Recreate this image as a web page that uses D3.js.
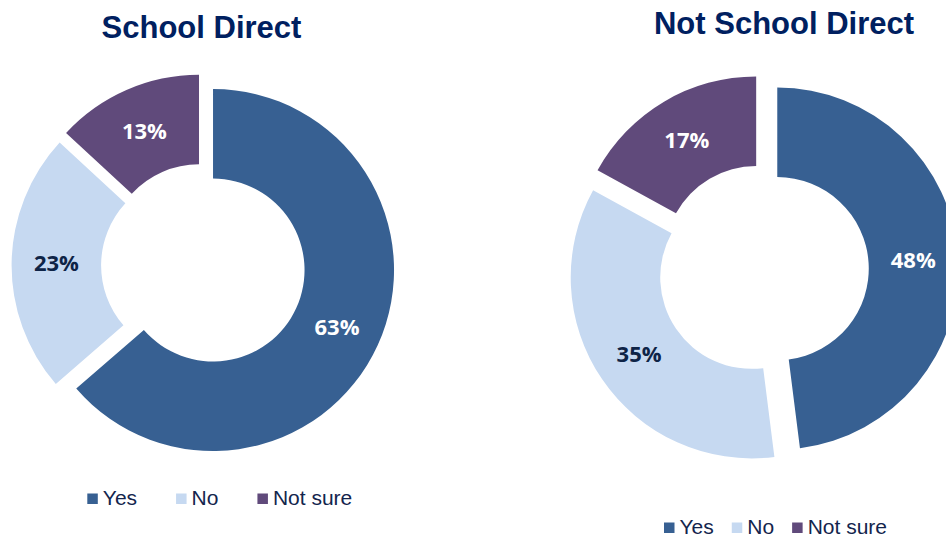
<!DOCTYPE html>
<html>
<head>
<meta charset="utf-8">
<script src="https://cdn.jsdelivr.net/npm/d3@7"></script>
<style>
  html, body { margin: 0; padding: 0; background: #ffffff; }
  svg { display: block; }
</style>
</head>
<body>
<svg id="chart" width="946" height="538"></svg>
<script>
// Survey answers, in percent
const categories = ["Yes", "No", "Not sure"];
const schoolDirect = [63, 23, 13];
const notSchoolDirect = [48, 35, 17];
const chartTitles = ["School Direct", "Not School Direct"];

const colors = ["#376092", "#C6D9F1", "#604A7B"];
const labelColors = ["#ffffff", "#0E2447", "#ffffff"];

const svg = d3.select("#chart");
const color = d3.scaleOrdinal().domain(categories).range(colors);
const labelColor = d3.scaleOrdinal().domain(categories).range(labelColors);

const outerR = 181, innerR = 91.5;

const panels = [
  { title: chartTitles[0], values: schoolDirect,
    cx: 203.3, cy: 265.6, explode: 10.7,
    titleX: 201.5, titleY: 37.5,
    legendX: 87.3, legendY: 505, legendGap: 39 },
  { title: chartTitles[1], values: notSchoolDirect,
    cx: 763.3, cy: 269.5, explode: 14,
    titleX: 784, titleY: 33.5,
    legendX: 664, legendY: 534, legendGap: 18 }
];

const pie = d3.pie().sort(null).value(d => d.value);
const arc = d3.arc().innerRadius(innerR).outerRadius(outerR);

panels.forEach(p => {
  const rows = categories.map((c, i) => ({ category: c, value: p.values[i] }));
  const g = svg.append("g").attr("transform", `translate(${p.cx},${p.cy})`);

  const slices = g.selectAll("g.slice")
    .data(pie(rows))
    .join("g")
    .attr("class", "slice")
    .attr("transform", d => {
      const a = (d.startAngle + d.endAngle) / 2;
      return `translate(${p.explode * Math.sin(a)},${-p.explode * Math.cos(a)})`;
    });

  slices.append("path")
    .attr("d", arc)
    .attr("fill", d => color(d.data.category));

  slices.append("text")
    .attr("transform", d => `translate(${arc.centroid(d)})`)
    .attr("text-anchor", "middle")
    .attr("dy", "0.36em")
    .attr("font-family", "'Open Sans', sans-serif")
    .attr("font-weight", 700)
    .attr("font-size", 22)
    .attr("fill", d => labelColor(d.data.category))
    .text(d => d.data.value + "%");

  // Title
  svg.append("text")
    .attr("x", p.titleX)
    .attr("y", p.titleY)
    .attr("text-anchor", "middle")
    .attr("font-family", "'Liberation Sans', Arial, sans-serif")
    .attr("font-weight", 700)
    .attr("font-size", 31)
    .attr("fill", "#002060")
    .text(p.title);

  // Legend
  const legend = svg.append("g").attr("transform", `translate(${p.legendX},${p.legendY})`);
  let x = 0;
  categories.forEach(c => {
    legend.append("rect")
      .attr("x", x)
      .attr("y", -11.5)
      .attr("width", 10.5)
      .attr("height", 10.5)
      .attr("fill", color(c));
    const t = legend.append("text")
      .attr("x", x + 15.5)
      .attr("y", 0)
      .attr("font-family", "'Liberation Sans', Arial, sans-serif")
      .attr("font-size", 21)
      .attr("fill", "#13254D")
      .text(c);
    x += 15.5 + t.node().getComputedTextLength() + p.legendGap;
  });
});
</script>
</body>
</html>
